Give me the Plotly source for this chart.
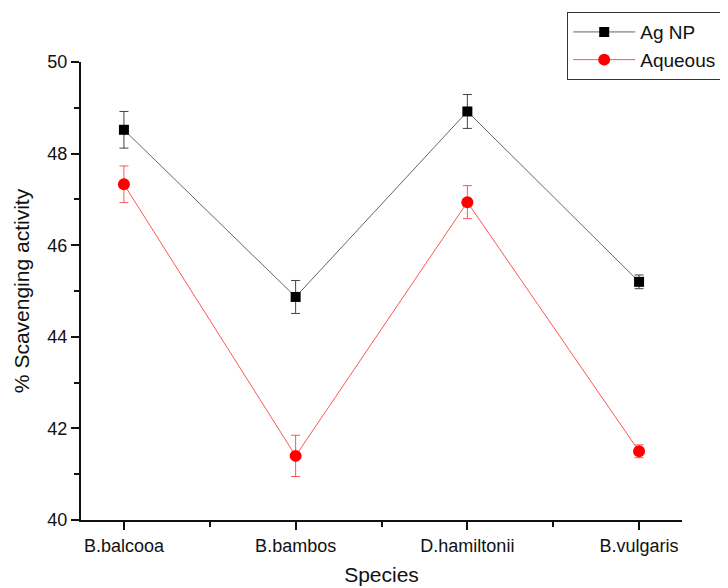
import plotly.graph_objects as go

species = ["B.balcooa", "B.bambos", "D.hamiltonii", "B.vulgaris"]
ag_np = [48.52, 44.87, 48.92, 45.20]
ag_np_err = [0.40, 0.36, 0.37, 0.15]
aqueous = [47.33, 41.40, 46.94, 41.50]
aqueous_err = [0.40, 0.45, 0.36, 0.14]

xpos = list(range(len(species)))

fig = go.Figure()
fig.add_trace(go.Scatter(
    x=xpos, y=ag_np, name="Ag NP", mode="lines+markers",
    line=dict(color="#666666", width=1),
    marker=dict(symbol="square", size=10, color="black"),
    error_y=dict(type="data", array=ag_np_err, color="#444444", thickness=1, width=4.5),
))
fig.add_trace(go.Scatter(
    x=xpos, y=aqueous, name="Aqueous", mode="lines+markers",
    line=dict(color="#ff5555", width=1),
    marker=dict(symbol="circle", size=12, color="#ff0000"),
    error_y=dict(type="data", array=aqueous_err, color="#ff5555", thickness=1, width=4.5),
))

fig.update_layout(
    width=728, height=588,
    margin=dict(l=73, r=54, t=54, b=76, autoexpand=False),
    paper_bgcolor="white", plot_bgcolor="white",
    font=dict(family="Liberation Sans, Arial", color="#111111"),
    legend=dict(
        x=0.809, y=1.109, xanchor="left", yanchor="top",
        bordercolor="#333333", borderwidth=1,
        font=dict(size=19), itemwidth=62, tracegroupgap=0,
        bgcolor="white",
    ),
    xaxis=dict(
        range=[-0.25, 3.25], tickvals=xpos, ticktext=species,
        showline=True, linecolor="#111111", linewidth=2,
        ticks="outside", ticklen=8, tickwidth=2, tickcolor="#111111",
        minor=dict(dtick=0.5, tick0=0.5, ticks="outside", ticklen=5, tickwidth=2, tickcolor="#111111"),
        showgrid=False, zeroline=False,
        tickfont=dict(size=18),
        title=dict(text="Species", font=dict(size=21), standoff=13),
    ),
    yaxis=dict(
        range=[40, 50], dtick=2, tick0=40,
        showline=True, linecolor="#111111", linewidth=2,
        ticks="outside", ticklen=8, tickwidth=2, tickcolor="#111111",
        minor=dict(dtick=1, ticks="outside", ticklen=5, tickwidth=2, tickcolor="#111111"),
        showgrid=False, zeroline=False,
        tickfont=dict(size=18),
        title=dict(text="% Scavenging activity", font=dict(size=21), standoff=12),
    ),
)

fig.write_html("out.html")
